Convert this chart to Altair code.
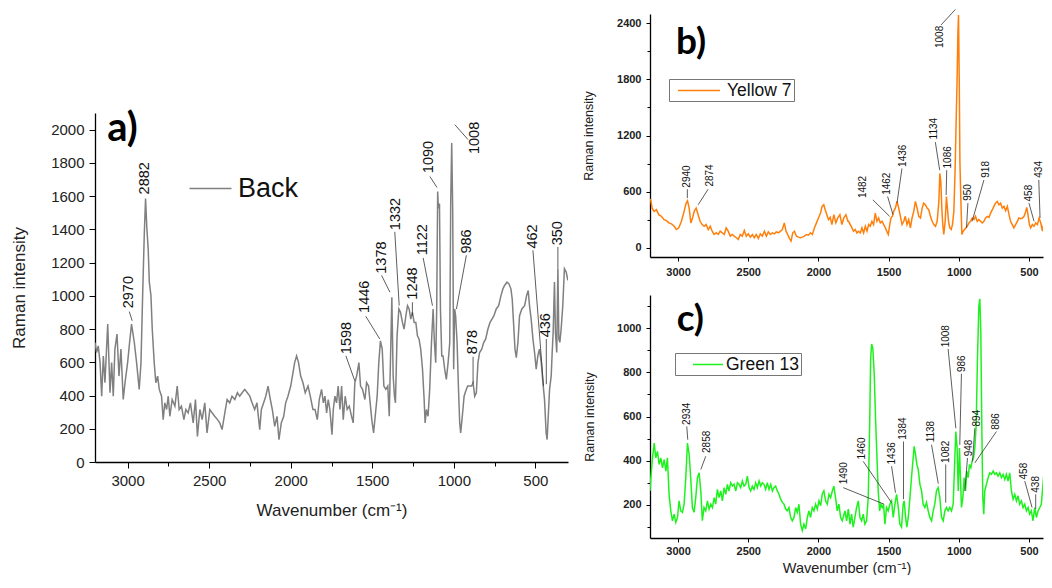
import altair as alt
import pandas as pd

FONT = "Liberation Sans"
LETTER_FONT = "Lato"

# ---------------- panel a : Back (grey) ----------------
A_WN = [3200, 3190, 3180, 3169, 3159, 3149, 3139, 3122, 3108, 3098,
        3088, 3078, 3065, 3053, 3041, 3027, 3016, 3000, 2988, 2976,
        2959, 2945, 2929, 2918, 2908, 2898, 2890, 2882, 2874, 2867,
        2857, 2849, 2837, 2827, 2816, 2806, 2792, 2782, 2772, 2761,
        2751, 2741, 2727, 2710, 2696, 2684, 2670, 2655, 2643, 2629,
        2615, 2598, 2584, 2572, 2557, 2543, 2527, 2513, 2496, 2482,
        2466, 2449, 2435, 2421, 2404, 2390, 2374, 2360, 2343, 2327,
        2313, 2298, 2282, 2266, 2251, 2237, 2221, 2207, 2190, 2180,
        2166, 2153, 2139, 2125, 2113, 2098, 2084, 2072, 2058, 2043,
        2031, 2017, 2000, 1986, 1976, 1964, 1952, 1939, 1925, 1911,
        1894, 1880, 1864,
        1851, 1837, 1825, 1811, 1800, 1790, 1780, 1770, 1760, 1747,
        1739, 1729, 1719, 1709, 1698, 1688, 1678, 1666, 1654, 1641,
        1627, 1617, 1607, 1596, 1582, 1572, 1560, 1545, 1535, 1523,
        1513, 1503, 1492, 1482, 1470, 1460, 1450, 1439, 1429, 1417,
        1405, 1396, 1386, 1380, 1372, 1364, 1358, 1348, 1337, 1327,
        1315, 1305, 1294, 1284, 1274, 1264, 1254, 1243, 1233, 1223,
        1213, 1203, 1192, 1182, 1176, 1168, 1158, 1148, 1137, 1127,
        1119, 1111, 1105, 1099, 1095, 1088, 1082, 1074, 1066, 1056,
        1046, 1035, 1025, 1019, 1013, 1007, 1001, 995, 989, 980,
        972, 964, 958, 948, 937, 927, 915, 903, 891, 882,
        872, 862, 852, 842, 829, 817, 805, 791, 778, 766,
        754, 740, 725, 711, 699, 689, 674, 662, 650, 642,
        634, 625, 617, 607, 597, 583, 566, 554, 544,
        536, 526, 515, 505, 495, 485, 475, 464, 454, 444,
        434, 428, 422, 413, 403, 397, 391, 383, 377, 369,
        362, 356, 350, 342, 332, 322, 311, 301]
A_INT = [719, 659, 699, 598, 396, 638, 477, 830, 417, 598,
         396, 679, 770, 517, 679, 376, 477, 598, 719, 830,
         719, 598, 437, 598, 1001, 1365, 1586, 1405, 1284, 1082,
         1001, 800, 598, 477, 517, 437, 396, 255, 356, 316,
         396, 275, 376, 336, 457, 316, 336, 255, 316, 296,
         356, 235, 376, 154, 316, 255, 356, 175, 316, 296,
         275, 255, 235, 195, 296, 376, 356, 396, 376, 417,
         396, 417, 437, 417, 396, 356, 316, 356, 195, 316,
         356, 396, 457, 376, 316, 215, 275, 134, 235, 275,
         356, 396, 457, 538, 598, 638, 598, 517, 477, 417,
         457, 396, 316,
         316, 255, 376, 437, 356, 396, 296, 376, 316, 164,
         316, 396, 356, 457, 316, 457, 255, 396, 316, 336,
         275, 235, 477, 517, 598, 457, 437, 376, 477, 457,
         356, 255, 175, 275, 396, 598, 729, 679, 457, 437,
         457, 275, 719, 991, 517, 396, 356, 759, 921, 901,
         840, 800, 880, 941, 921, 860, 901, 840, 840, 759,
         739, 679, 558, 376, 235, 316, 275, 437, 719, 921,
         719, 598, 921, 1627, 1526, 1556, 921, 638, 638, 558,
         497, 598, 719, 1566, 1919, 1526, 558, 921, 880, 719,
         457, 235, 175, 275, 396, 427, 457, 457, 457, 477,
         396, 417, 598, 659, 679, 719, 739, 800, 840, 860,
         880, 921, 941, 1001, 1042, 1062, 1082, 1072, 1042, 981,
         840, 679, 628, 719, 880, 921, 941, 1001, 1032,
         941, 861, 740, 659, 558, 639, 679, 599, 478, 377,
         175, 135, 256, 437, 518, 659, 780, 1083, 780, 659,
         1163, 740, 720, 800, 941, 1163, 1143, 1093]

A_LAB = ["2970", "2882", "1598", "1446", "1378", "1332", "1248", "1122",
         "1090", "1008", "986", "878", "462", "436", "350"]
A_LAB_X = [2994, 2896, 1656, 1545, 1443, 1356, 1250, 1192,
           1154, 868, 917, 882, 515, 433, 362]
A_LAB_Y = [925, 1610, 649, 897, 1133, 1395, 977, 1244,
           1738, 1853, 1254, 649, 1284, 750, 1304]
A_LEAD_X1 = [2990, 1662, 1540, 1443, 1362, 1254, 1188, 1147, 994, 923, 882, 515, 433, 362]
A_LEAD_Y1 = [905, 639, 877, 1123, 1385, 961, 1228, 1718, 2030, 1244, 633, 1274, 740, 1294]
A_LEAD_X2 = [2972, 1607, 1454, 1392, 1335, 1254, 1131, 1103, 913, 984, 882, 450, 433, 362]
A_LEAD_Y2 = [850, 488, 740, 1022, 941, 881, 941, 1652, 1940, 921, 472, 457, 468, 1163]

# ---------------- panel b : Yellow 7 (orange) ----------------
B_WN = [3200, 3195, 3185, 3171, 3154, 3138, 3119, 3100, 3083, 3066, 3047,
        3028, 3012, 2995, 2976, 2957, 2943, 2933, 2921, 2909, 2897,
        2885, 2871, 2857, 2843, 2828, 2814, 2800, 2785, 2771, 2757,
        2743, 2728, 2714, 2700, 2685, 2671, 2657, 2643, 2628, 2614,
        2600, 2585, 2571, 2557, 2543, 2528, 2514, 2500, 2485, 2471,
        2457, 2443, 2428, 2414, 2400, 2385, 2371, 2357, 2343, 2328,
        2314, 2300, 2285, 2271, 2257, 2243, 2231, 2219, 2207, 2195,
        2183, 2171, 2157, 2143, 2128, 2114, 2100, 2085, 2071, 2057,
        2043, 2028, 2014, 2000, 1985, 1974, 1962, 1952, 1940, 1928,
        1916, 1904, 1890, 1876, 1862, 1847, 1833, 1819, 1804, 1790,
        1785, 1773, 1761, 1750, 1738, 1726, 1714, 1702, 1690, 1678,
        1666, 1654, 1642, 1631, 1619, 1607, 1595, 1583, 1571, 1559,
        1547, 1535, 1523, 1511, 1502, 1492, 1483, 1473, 1464, 1452,
        1440, 1428, 1416, 1404, 1392, 1381, 1369, 1357, 1345, 1333,
        1321, 1309, 1297, 1285, 1273, 1261, 1250, 1238, 1226, 1214,
        1202, 1190, 1178, 1166, 1154, 1142, 1135, 1128, 1121, 1114,
        1107, 1097, 1088, 1081, 1073, 1064, 1054, 1045, 1035, 1026,
        1019, 1011, 1007, 1002, 997, 992, 985, 978, 969, 959,
        950, 940, 928, 916, 904, 892, 881, 869, 857, 845,
        833, 821, 809, 797, 785, 773, 761, 750, 738, 726,
        714, 702, 690, 678, 666, 654, 642, 631, 619, 607,
        595, 583, 571, 559, 547, 535, 523, 516, 507, 497,
        488, 476, 464, 452, 440, 428, 416, 404, 392, 380,
        369, 360]
B_INT = [520, 512, 423, 388, 406, 353, 335, 300, 289, 265, 254,
         229, 194, 212, 282, 388, 476, 501, 423, 265, 318,
         388, 423, 353, 282, 247, 229, 247, 194, 229, 176,
         141, 159, 141, 176, 159, 141, 212, 176, 123, 141,
         123, 106, 88, 141, 123, 183, 123, 148, 113, 141,
         106, 141, 99, 148, 123, 176, 123, 169, 141, 159,
         148, 169, 159, 176, 194, 265, 176, 141, 99, 70,
         159, 176, 123, 113, 106, 113, 123, 141, 134, 159,
         141, 212, 265, 318, 371, 441, 459, 406, 353, 300,
         325, 247, 353, 265, 318, 353, 247, 318, 353, 282,
         282, 247, 211, 176, 194, 158, 176, 158, 211, 158,
         229, 176, 247, 229, 282, 247, 370, 282, 317, 264,
         282, 247, 211, 169, 141, 247, 317, 335, 388, 423,
         494, 423, 335, 247, 282, 335, 247, 300, 211, 317,
         388, 494, 423, 335, 317, 423, 476, 459, 423, 406,
         335, 282, 247, 229, 282, 494, 794, 706, 423, 247,
         141, 282, 547, 423, 282, 211, 194, 247, 388, 847,
         1341, 1871, 2259, 2489, 1836, 917, 494, 141, 176, 194,
         211, 229, 264, 282, 317, 300, 335, 282, 300, 282,
         264, 282, 317, 335, 324, 370, 406, 441, 476, 494,
         459, 476, 423, 441, 395, 441, 353, 282, 247, 211,
         247, 282, 317, 310, 317, 335, 388, 430, 353, 247,
         211, 247, 229, 264, 247, 317, 264, 176, 282, 353,
         317, 330]

B_LAB = ["2940", "2874", "1482", "1462", "1436", "1134", "1086", "1008",
         "950", "918", "458", "434"]
B_LAB_X = [2934, 2774, 1679, 1512, 1398, 1174, 1079, 1131, 935, 809, 500, 430]
B_LAB_Y = [642, 653, 530, 565, 864, 1158, 847, 2136, 501, 748, 494, 748]
B_LEAD_X1 = [2934, 2786, 1612, 1507, 1405, 1167, 1086, 1126, 935, 821, 500, 430]
B_LEAD_Y1 = [625, 625, 512, 547, 847, 1129, 829, 2383, 477, 724, 477, 724]
B_LEAD_X2 = [2934, 2857, 1493, 1469, 1440, 1136, 1090, 1024, 945, 905, 464, 421]
B_LEAD_Y2 = [530, 459, 335, 353, 477, 829, 564, 2549, 212, 282, 282, 318]

# ---------------- panel c : Green 13 (green) ----------------
C_WN = [3200, 3194, 3182, 3170, 3159, 3147, 3135, 3123, 3111, 3099,
        3087, 3076, 3064, 3052, 3040, 3028, 3016, 3004, 2993, 2981,
        2969, 2957, 2945, 2933, 2921, 2910, 2898, 2886, 2874, 2862,
        2850, 2838, 2827, 2815, 2803, 2791, 2779, 2767, 2755, 2743,
        2732, 2720, 2708, 2696, 2684, 2672, 2660, 2649, 2637, 2625,
        2613, 2601, 2589, 2577, 2566, 2554, 2542, 2530, 2518, 2506,
        2494, 2483, 2471, 2459, 2447, 2435, 2423, 2411, 2400, 2388,
        2376, 2364, 2352, 2340, 2328, 2317, 2305, 2293, 2281, 2269,
        2257, 2245, 2234, 2222, 2210, 2198, 2186, 2174, 2162, 2151,
        2139, 2127, 2115, 2103, 2091, 2079, 2068, 2056, 2044, 2032,
        2020, 2008, 1996, 1984, 1973, 1961, 1949, 1937, 1925, 1913,
        1901, 1890, 1878, 1866, 1854, 1842, 1830,
        1811, 1799, 1787, 1775, 1764, 1752, 1740, 1728, 1716, 1704,
        1692, 1681, 1669, 1657, 1645, 1635, 1628, 1621, 1612, 1602,
        1593, 1583, 1574, 1564, 1555, 1545, 1536, 1526, 1515, 1503,
        1491, 1479, 1467, 1455, 1443, 1431, 1420, 1408, 1396, 1389,
        1379, 1370, 1360, 1348, 1337, 1325, 1318, 1308, 1299, 1289,
        1277, 1265, 1254, 1242, 1230, 1218, 1206, 1194, 1182, 1171,
        1159, 1147, 1135, 1123, 1111, 1099, 1088, 1076, 1064, 1052,
        1040, 1028, 1021, 1012, 1004, 995, 988, 981, 971, 962,
        952, 943, 933, 924, 914, 905, 895, 886, 876, 867,
        857, 850, 843, 836, 829, 822, 815, 803, 791, 779,
        767, 755, 744, 732, 720, 708, 696, 684, 672, 661,
        649, 637, 625, 613, 601, 589, 578, 566, 554, 542,
        530, 518, 506, 495, 483, 471, 459, 447, 435, 423,
        412, 400, 388, 376, 364, 360]
C_INT = [263, 323, 413, 480, 413, 442, 383, 413, 368, 405,
         353, 413, 248, 173, 128, 158, 121, 143, 218, 173,
         166, 203, 323, 480, 427, 323, 188, 166, 233, 323,
         345, 263, 128, 188, 173, 218, 181, 203, 188, 233,
         203, 270, 233, 263, 218, 278, 248, 293, 263, 300,
         285, 293, 263, 300, 293, 278, 308, 285, 293, 330,
         278, 263, 285, 270, 300, 278, 308, 285, 300, 293,
         270, 300, 270, 293, 263, 278, 285, 263, 248, 226,
         211, 203, 181, 173, 188, 143, 128, 143, 188, 166,
         203, 113, 84, 113, 91, 143, 173, 143, 188, 173,
         203, 181, 218, 196, 248, 263, 218, 203, 248, 233,
         263, 285, 233, 173, 203, 143, 128,
         173, 128, 181, 113, 158, 99, 143, 188, 218, 143,
         128, 158, 113, 128, 233, 562, 861, 928, 906, 786,
         592, 413, 263, 173, 203, 188, 203, 113, 188, 173,
         203, 218, 143, 203, 248, 188, 113, 99, 203, 218,
         143, 99, 143, 233, 323, 413, 465, 427, 383, 360,
         293, 263, 203, 188, 211, 173, 143, 128, 173, 203,
         263, 278, 233, 143, 128, 173, 188, 173, 188, 173,
         203, 413, 532, 457, 263, 457, 323, 188, 233, 323,
         263, 353, 323, 383, 368, 398, 413, 457, 562, 861,
         1100, 1133, 981, 562, 233, 158, 263, 293, 323, 345,
         338, 353, 338, 345, 330, 345, 323, 338, 315, 338,
         308, 345, 263, 226, 248, 218, 241, 203, 218, 188,
         203, 173, 188, 158, 173, 128, 188, 143, 173, 188,
         203, 293, 383, 562, 532, 550]

C_LAB = ["2934", "2858", "1490", "1460", "1436", "1384", "1138", "1082",
         "1008", "986", "948", "894", "886", "458", "438"]
C_LAB_X = [2938, 2791, 1818, 1693, 1479, 1394, 1199, 1093, 1088, 976, 929, 870, 732, 537, 447]
C_LAB_Y = [562, 435, 293, 405, 383, 495, 483, 390, 913, 801, 420, 555, 540, 315, 255]
C_LEAD_X1 = [2938, 2803, 1823, 1681, 1479, 1394, 1194, 1093, 1076, 981, 938, 886, 732, 530, 452]
C_LEAD_Y1 = [555, 420, 278, 397, 375, 487, 472, 383, 906, 794, 412, 547, 532, 308, 248]
C_LEAD_X2 = [2931, 2838, 1532, 1479, 1451, 1394, 1146, 1093, 1021, 993, 957, 902, 886, 478, 452]
C_LEAD_Y2 = [495, 360, 203, 210, 255, 226, 296, 210, 547, 472, 263, 397, 390, 188, 181]

X_TICKS = [500, 750, 1000, 1250, 1500, 1750, 2000, 2250, 2500, 2750, 3000]
WN_TITLE = "Wavenumber (cm\u207b\u00b9)"

# layout (pixels): both views span the same height, each y scale uses a part of it
VIEW_H = 524
A_W, R_W = 473, 393
A_RANGE = [448, 99]      # panel a inside its view
B_RANGE = [243, 0]       # panel b, top of the right view
C_RANGE = [VIEW_H, 281]  # panel c, bottom of the right view


def x_axis(title, lab_size, lab_weight, tmaj, tmin, lpad, tpad, title_size, offset):
    kw = dict(values=X_TICKS, format="d", orient="bottom", offset=offset,
              labelExpr="datum.value % 500 === 0 ? datum.label : ''",
              tickSize={"condition": {"test": "datum.value % 500 === 0", "value": tmaj}, "value": tmin},
              grid=False, domainColor="#000", domainWidth=1.3, tickColor="#000", tickWidth=1,
              labelFont=FONT, labelFontSize=lab_size, labelFontWeight=lab_weight,
              labelColor="#222", labelPadding=lpad, labelFlush=False)
    if title:
        kw.update(title=title, titleFont=FONT, titleFontSize=title_size,
                  titleFontWeight="normal", titleColor="#222", titlePadding=tpad)
    else:
        kw.update(title=None)
    return alt.Axis(**kw)


def y_axis(values, step_lab, lab_size, lab_weight, tmaj, tmin, lpad, tpad, title_size):
    return alt.Axis(values=values, format="d", orient="left",
                    labelExpr=f"datum.value % {step_lab} === 0 ? datum.label : ''",
                    tickSize={"condition": {"test": f"datum.value % {step_lab} === 0", "value": tmaj}, "value": tmin},
                    grid=False, domainColor="#000", domainWidth=1.3, tickColor="#000", tickWidth=1,
                    labelFont=FONT, labelFontSize=lab_size, labelFontWeight=lab_weight,
                    labelColor="#222", labelPadding=lpad, labelFlush=False,
                    title="Raman intensity", titleFont=FONT, titleFontSize=title_size,
                    titleFontWeight="normal", titleColor="#222", titlePadding=tpad)


def line_legend(x, y, font_size, line_len, sym_off, lab_off, box):
    half = line_len / font_size  # path units: one unit = font_size/2 px
    kw = dict(orient="none", legendX=x, legendY=y, title=None,
              symbolType=f"M{-half:.3f},0H{half:.3f}", symbolSize=font_size * font_size,
              symbolStrokeWidth=1.5, symbolFillColor="transparent",
              labelFont=FONT, labelFontSize=font_size, labelColor="#111",
              symbolOffset=sym_off, labelOffset=lab_off)
    if box:
        kw.update(padding=2, strokeColor="#777", fillColor="#fff")
    else:
        kw.update(padding=0)
    return alt.Legend(**kw)


def panel(wn, inten, name, color, xdom, ydom, yrange, xax, yax, legend,
          labs, lx, ly, lx1, ly1, lx2, ly2, lab_size, letter, letter_x, letter_y, letter_size):
    xs = alt.Scale(domain=xdom, reverse=True, nice=False, zero=False)
    ys = alt.Scale(domain=ydom, range=yrange, nice=False, zero=False)
    df = pd.DataFrame({"wn": wn, "intensity": inten, "series": name})
    line = alt.Chart(df).mark_line(strokeWidth=1.5, clip=True).encode(
        x=alt.X("wn:Q", scale=xs, axis=xax),
        y=alt.Y("intensity:Q", scale=ys, axis=yax),
        color=alt.Color("series:N", scale=alt.Scale(domain=[name], range=[color]), legend=legend),
    )
    ldf = pd.DataFrame({"wn": lx1, "intensity": ly1, "wn2": lx2, "intensity2": ly2})
    leaders = alt.Chart(ldf).mark_rule(color="#333", strokeWidth=0.8).encode(
        x=alt.X("wn:Q", scale=xs), y=alt.Y("intensity:Q", scale=ys),
        x2="wn2:Q", y2="intensity2:Q",
    )
    tdf = pd.DataFrame({"wn": lx, "intensity": ly, "label": labs})
    texts = alt.Chart(tdf).mark_text(angle=270, align="left", baseline="middle",
                                     font=FONT, fontSize=lab_size, color="#111").encode(
        x=alt.X("wn:Q", scale=xs), y=alt.Y("intensity:Q", scale=ys), text="label:N",
    )
    pdf = pd.DataFrame({"wn": [letter_x], "intensity": [letter_y], "label": [letter]})
    letter_mark = alt.Chart(pdf).mark_text(align="left", baseline="alphabetic", font=LETTER_FONT,
                                           fontSize=letter_size, fontWeight="bold", color="#000").encode(
        x=alt.X("wn:Q", scale=xs), y=alt.Y("intensity:Q", scale=ys), text="label:N",
    )
    return alt.layer(line, leaders, texts, letter_mark)


pa = panel(A_WN, A_INT, "Back", "#808080", [300, 3200], [0, 2100], A_RANGE,
           x_axis(WN_TITLE, 15, "normal", 6, 4, 5, 14, 17, -(VIEW_H - A_RANGE[0])),
           y_axis(list(range(0, 2101, 100)), 200, 15, "normal", 6, 4, 5, 22, 17),
           line_legend(91, 160, 27, 42, 10, 13, False),
           A_LAB, A_LAB_X, A_LAB_Y, A_LEAD_X1, A_LEAD_Y1, A_LEAD_X2, A_LEAD_Y2,
           14.5, "a)", 3125, 1930, 40).properties(width=A_W, height=VIEW_H)

pb = panel(B_WN, B_INT, "Yellow 7", "#ff7f0a", [400, 3200], [-100, 2500], B_RANGE,
           x_axis(None, 11, "bold", 4, 3, 5, 0, 12, -(VIEW_H - B_RANGE[0])),
           y_axis(list(range(0, 2401, 300)), 600, 11, "bold", 4, 3, 5, 21, 12.5),
           line_legend(19, 65, 17.5, 42, 18.5, 18.5, True),
           B_LAB, B_LAB_X, B_LAB_Y, B_LEAD_X1, B_LEAD_Y1, B_LEAD_X2, B_LEAD_Y2,
           10, "b)", 3015, 2070, 37)

pc = panel(C_WN, C_INT, "Green 13", "#1ef21e", [400, 3200], [50, 1150], C_RANGE,
           x_axis(WN_TITLE, 11, "bold", 4, 3, 3, 5, 14.5, 0),
           y_axis(list(range(100, 1101, 100)), 200, 11, "bold", 4, 3, 5, 20, 12.5),
           line_legend(25, 339, 17.5, 30, 21.5, 8.5, True),
           C_LAB, C_LAB_X, C_LAB_Y, C_LEAD_X1, C_LEAD_Y1, C_LEAD_X2, C_LEAD_Y2,
           10, "c)", 3010, 985, 37)

right = alt.layer(pb, pc).resolve_scale(
    x="independent", y="independent", color="independent"
).properties(width=R_W, height=VIEW_H)

chart = alt.hconcat(pa, right, spacing=82, bounds="flush").properties(
    padding={"left": 2, "top": 1, "right": 0, "bottom": 0}, background="#ffffff"
).configure_view(stroke="transparent", strokeWidth=0)

chart.save("out.html", embed_options={"renderer": "svg", "actions": False})
